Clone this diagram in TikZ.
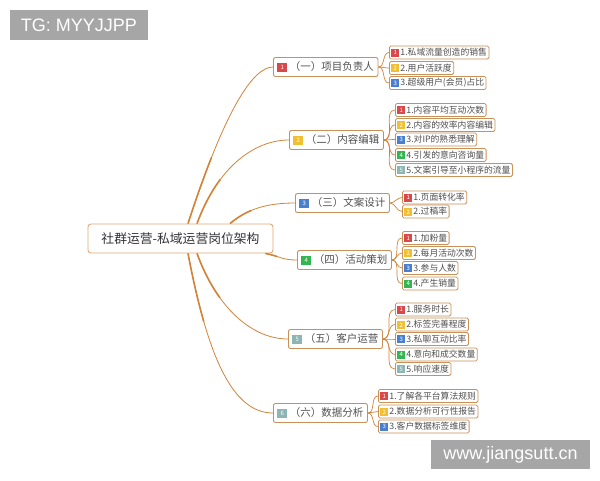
\documentclass[tikz,border=0pt]{standalone}
\usepackage{fontspec}
\newfontfamily\cjk{Noto Sans CJK SC}
\newfontfamily\arialf{Liberation Sans}
\definecolor{boxc}{HTML}{C8915A}
\definecolor{rootc}{HTML}{E2A878}
\definecolor{linec}{HTML}{D2843A}
\definecolor{txt}{HTML}{505050}
\definecolor{bred}{HTML}{D9484A}
\definecolor{byel}{HTML}{F0C030}
\definecolor{bblu}{HTML}{4A7FD0}
\definecolor{bgrn}{HTML}{33B552}
\definecolor{btea}{HTML}{8DB5B3}
\definecolor{wmgray}{HTML}{A6A6A6}
\newcommand{\mybadge}[3]{\raisebox{-0.14em}{\setlength{\fboxsep}{0pt}\colorbox{#2}{\parbox[b][#1][c]{#1}{\centering\fontsize{6}{6}\selectfont\color{white}#3}}}}
\newcommand{\ba}[2]{\mybadge{9.5pt}{#1}{#2}\hspace{3pt}}
\newcommand{\bb}[2]{\mybadge{8pt}{#1}{#2}\hspace{1pt}}
\tikzset{
  rootbox/.style={draw=rootc, line width=0.9pt, rounded corners=3pt, fill=white, minimum width=185pt, minimum height=29pt, inner sep=0pt, font=\cjk\fontsize{12.8}{14}\selectfont, text=black!80},
  lone/.style={draw=boxc, line width=0.9pt, rounded corners=2pt, fill=white, inner xsep=4pt, inner ysep=0pt, minimum height=19pt, anchor=west, font=\cjk\fontsize{10.5}{12}\selectfont, text=txt},
  ltwo/.style={draw=boxc, line width=0.8pt, rounded corners=1.5pt, fill=white, inner xsep=2pt, inner ysep=0pt, minimum height=13pt, anchor=west, font=\cjk\fontsize{8.8}{10}\selectfont, text=txt},
  conn/.style={draw=linec, line width=0.8pt},
  connthick/.style={draw=linec, line width=1.6pt, dash pattern=on #1 off 1000pt},
  subc/.style={draw=linec, line width=0.7pt},
  wm/.style={fill=wmgray, text=white, inner sep=0pt, font=\arialf\fontsize{18}{20}\selectfont},
}
\begin{document}
\begin{tikzpicture}[x=1pt,y=-1pt]
\useasboundingbox (0,0) rectangle (600,480);
\fill[white] (0,0) rectangle (600,480);

% watermarks
\node[wm, minimum width=138pt, minimum height=30pt] (wmtl) at (79,25) {TG: MYYJJPP};
\node[wm, minimum width=159pt, minimum height=29pt] (wmbr) at (510.5,454.5) {www.jiangsutt.cn};

% root
\node[rootbox] (root) at (180.5,238.5) {社群运营-私域运营岗位架构};

% level 1
\node[lone] (n1) at (273,67) {\ba{bred}{1}（一）项目负责人};
\node[lone] (n2) at (289,140) {\ba{byel}{2}（二）内容编辑};
\node[lone] (n3) at (295,203) {\ba{bblu}{3}（三）文案设计};
\node[lone] (n4) at (297,260) {\ba{bgrn}{4}（四）活动策划};
\node[lone] (n5) at (288,339) {\ba{btea}{5}（五）客户运营};
\node[lone] (n6) at (273,413) {\ba{btea}{6}（六）数据分析};

% level 2 - group 1
\node[ltwo] (a1) at (389,52.5) {\bb{bred}{1}1.私域流量创造的销售};
\node[ltwo] (a2) at (389,68) {\bb{byel}{2}2.用户活跃度};
\node[ltwo] (a3) at (389,83) {\bb{bblu}{3}3.超级用户(会员)占比};
% group 2
\node[ltwo] (b1) at (395,110) {\bb{bred}{1}1.内容平均互动次数};
\node[ltwo] (b2) at (395,125) {\bb{byel}{2}2.内容的效率内容编辑};
\node[ltwo] (b3) at (395,139.5) {\bb{bblu}{3}3.对IP的熟悉理解};
\node[ltwo] (b4) at (395,155) {\bb{bgrn}{4}4.引发的意向咨询量};
\node[ltwo] (b5) at (395,170) {\bb{btea}{5}5.文案引导至小程序的流量};
% group 3
\node[ltwo] (c1) at (402,197.5) {\bb{bred}{1}1.页面转化率};
\node[ltwo] (c2) at (402,211.5) {\bb{byel}{2}2.过稿率};
% group 4
\node[ltwo] (d1) at (402,238) {\bb{bred}{1}1.加粉量};
\node[ltwo] (d2) at (402,253) {\bb{byel}{2}2.每月活动次数};
\node[ltwo] (d3) at (402,268) {\bb{bblu}{3}3.参与人数};
\node[ltwo] (d4) at (402,283.5) {\bb{bgrn}{4}4.产生销量};
% group 5
\node[ltwo] (e1) at (395,309.5) {\bb{bred}{1}1.服务时长};
\node[ltwo] (e2) at (395,324.5) {\bb{byel}{2}2.标签完善程度};
\node[ltwo] (e3) at (395,339) {\bb{bblu}{3}3.私聊互动比率};
\node[ltwo] (e4) at (395,354.5) {\bb{bgrn}{4}4.意向和成交数量};
\node[ltwo] (e5) at (395,369) {\bb{btea}{5}5.响应速度};
% group 6
\node[ltwo] (f1) at (378,396) {\bb{bred}{1}1.了解各平台算法规则};
\node[ltwo] (f2) at (378,411.5) {\bb{byel}{2}2.数据分析可行性报告};
\node[ltwo] (f3) at (378,426.5) {\bb{bblu}{3}3.客户数据标签维度};

% start points on the root
\coordinate (s1) at ([xshift=7.5pt]root.north);
\coordinate (s2) at ([xshift=16.5pt]root.north);
\coordinate (s3) at ([xshift=49.5pt]root.north);
\coordinate (s4) at ([xshift=-8pt]root.south east);
\coordinate (s5) at ([xshift=16.5pt]root.south);
\coordinate (s6) at ([xshift=7.5pt]root.south);

% root connectors (thin full curve + thicker start for a tapered look)
\draw[conn] (s1) .. controls +(37,-114) and +(-20,0) .. (n1.west);
\draw[connthick=70pt] (s1) .. controls +(37,-114) and +(-20,0) .. (n1.west);
\draw[conn] (s2) .. controls +(20.5,-56) and +(-35,0) .. (n2.west);
\draw[connthick=50pt] (s2) .. controls +(20.5,-56) and +(-35,0) .. (n2.west);
\draw[conn] (s3) .. controls +(19,-16) and +(-25,0) .. (n3.west);
\draw[connthick=25pt] (s3) .. controls +(19,-16) and +(-25,0) .. (n3.west);
\draw[conn] (s4) .. controls +(15,3) and +(-15,0) .. (n4.west);
\draw[connthick=12pt] (s4) .. controls +(15,3) and +(-15,0) .. (n4.west);
\draw[conn] (s5) .. controls +(20.5,56) and +(-35,0) .. (n5.west);
\draw[connthick=50pt] (s5) .. controls +(20.5,56) and +(-35,0) .. (n5.west);
\draw[conn] (s6) .. controls +(20,105) and +(-40,0) .. (n6.west);
\draw[connthick=70pt] (s6) .. controls +(20,105) and +(-40,0) .. (n6.west);

% sub connectors
\foreach \c in {a1,a2,a3} \draw[subc] (n1.east) to[out=0,in=180] (\c.west);
\foreach \c in {b1,b2,b3,b4,b5} \draw[subc] (n2.east) to[out=0,in=180] (\c.west);
\foreach \c in {c1,c2} \draw[subc] (n3.east) to[out=0,in=180] (\c.west);
\foreach \c in {d1,d2,d3,d4} \draw[subc] (n4.east) to[out=0,in=180] (\c.west);
\foreach \c in {e1,e2,e3,e4,e5} \draw[subc] (n5.east) to[out=0,in=180] (\c.west);
\foreach \c in {f1,f2,f3} \draw[subc] (n6.east) to[out=0,in=180] (\c.west);
\end{tikzpicture}
\end{document}
